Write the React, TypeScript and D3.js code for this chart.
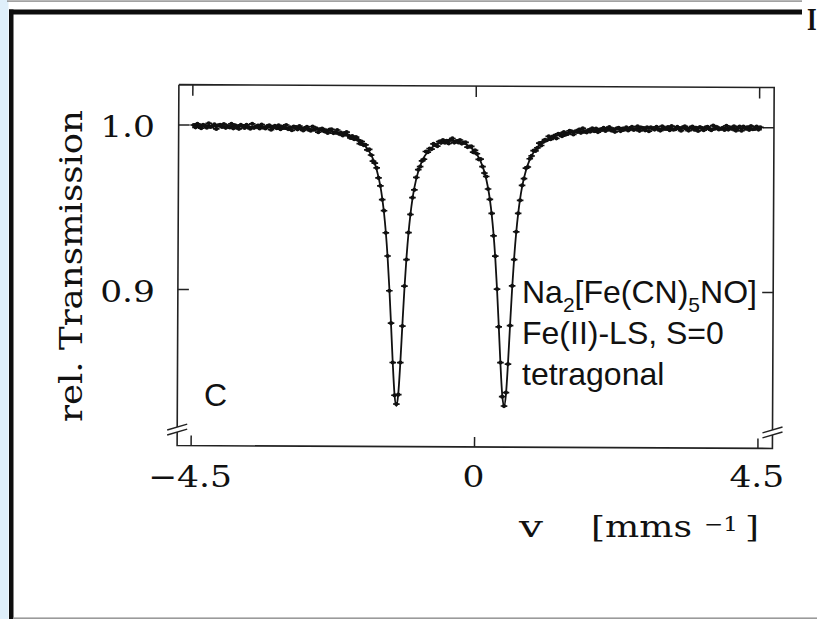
import React from 'react';
import * as d3 from 'd3';

// Spectrometer channels: velocity of the first channel and channel width (mm/s)
const V_START = -4.485;
const V_STEP = 0.03;

// Measured relative transmission per channel, in units of 1e-4
const TRANSMISSION_E4 = [
  10000, 9986, 10007, 9992, 9981, 10002, 9997, 9984, 10011, 9989,
  9992, 10004, 9977, 9998, 10002, 9989, 10007, 9984, 9995, 9987,
  10008, 9981, 9999, 9992, 9978, 10002, 9995, 9984, 10003, 9988,
  9979, 10009, 9985, 9993, 9998, 9981, 10005, 9987, 9981, 9995,
  10000, 9974, 9990, 9997, 9983, 10000, 9977, 9991, 9985, 10003,
  9978, 9989, 9971, 9994, 9990, 9977, 9996, 9982, 9970, 9986,
  9992, 9975, 9969, 9994, 9975, 9984, 9960, 9977, 9982, 9966,
  9972, 9956, 9976, 9978, 9955, 9958, 9974, 9951, 9958, 9941,
  9955, 9962, 9940, 9926, 9938, 9919, 9931, 9915, 9892, 9904,
  9883, 9884, 9854, 9857, 9823, 9786, 9774, 9745, 9684, 9636,
  9552, 9485, 9351, 9210, 8999, 8802, 8563, 8364, 8311, 8368,
  8563, 8785, 9028, 9189, 9353, 9463, 9565, 9613, 9688, 9735,
  9754, 9789, 9799, 9846, 9842, 9864, 9861, 9892, 9885, 9879,
  9906, 9899, 9916, 9900, 9912, 9896, 9918, 9926, 9901, 9910,
  9903, 9917, 9895, 9901, 9903, 9874, 9877, 9878, 9843, 9855,
  9834, 9800, 9801, 9756, 9717, 9696, 9620, 9557, 9472, 9336,
  9212, 9012, 8783, 8566, 8359, 8302, 8384, 8557, 8791, 9032,
  9192, 9361, 9473, 9552, 9643, 9684, 9748, 9755, 9805, 9822,
  9854, 9853, 9871, 9900, 9886, 9908, 9921, 9918, 9942, 9924,
  9937, 9947, 9930, 9957, 9955, 9943, 9968, 9953, 9957, 9976,
  9973, 9954, 9973, 9969, 9983, 9964, 9991, 9972, 9967, 9981,
  9972, 9992, 9975, 9990, 9969, 9984, 9982, 9995, 9976, 9990,
  9999, 9979, 9987, 9971, 9992, 9995, 9976, 9991, 9985, 9998,
  9980, 9991, 10002, 9983, 9989, 10005, 9978, 9997, 9995, 9981,
  10000, 9976, 9999, 9993, 9986, 10003, 9988, 9980, 10006, 9991,
  9990, 10001, 9983, 10007, 9986, 9989, 10003, 9996, 9980, 10000,
  10007, 9990, 9981, 9999, 10005, 9986, 9998, 9979, 10003, 9996,
  9984, 10001, 10004, 9990, 9984, 10012, 9994, 10003, 9989, 9993,
  9998, 9986, 10011, 9988, 10000, 9993, 10008, 9982, 9997, 10007,
  9982, 10007, 9995, 10003, 9987, 10010, 9991, 9993, 10007, 9989,
  10003,
];

// Fitted quadrupole doublet, sampled along the velocity axis
const FIT_V = [
  -4.485, -3.585, -2.985, -2.685, -2.385, -2.085, -1.935, -1.785, -1.695, -1.635,
  -1.575, -1.515, -1.485, -1.455, -1.425, -1.395, -1.365, -1.335, -1.305, -1.275,
  -1.245, -1.215, -1.185, -1.155, -1.125, -1.095, -1.065, -1.035, -1.005, -0.975,
  -0.915, -0.855, -0.765, -0.645, -0.525, -0.39, -0.255, -0.135, -0.015, 0.075,
  0.135, 0.195, 0.225, 0.255, 0.285, 0.315, 0.345, 0.375, 0.405, 0.435,
  0.465, 0.495, 0.525, 0.555, 0.585, 0.615, 0.645, 0.675, 0.705, 0.735,
  0.795, 0.855, 0.915, 1.005, 1.155, 1.305, 1.605, 1.905, 2.205, 2.805,
  3.705, 4.515,
];
const FIT_T = [
  0.99955, 0.9992, 0.99864, 0.9981, 0.9971, 0.9949, 0.9927, 0.9887, 0.9844, 0.98,
  0.9734, 0.9634, 0.9562, 0.9471, 0.9354, 0.9204, 0.9016, 0.8794, 0.8562, 0.8373,
  0.8299, 0.8373, 0.856, 0.8792, 0.9013, 0.92, 0.9349, 0.9465, 0.9556, 0.9626,
  0.9725, 0.9788, 0.9846, 0.9886, 0.9905, 0.9912, 0.9905, 0.9886, 0.9846, 0.9788,
  0.9725, 0.9626, 0.9556, 0.9465, 0.9349, 0.92, 0.9013, 0.8792, 0.856, 0.8373,
  0.8299, 0.8373, 0.8562, 0.8794, 0.9016, 0.9204, 0.9354, 0.9471, 0.9562, 0.9634,
  0.9734, 0.98, 0.9844, 0.9887, 0.9927, 0.9949, 0.9971, 0.9981, 0.99864, 0.9992,
  0.99955, 0.9997,
];

const X_TICKS = [-4.5, 0, 4.5];
const X_TICK_LABELS = ['\u22124.5', '0', '4.5'];
const Y_TICKS = [1.0, 0.9];
const Y_TICK_LABELS = ['1.0', '0.9'];

const W = 817;
const H = 619;
const SERIF = '"DejaVu Serif", serif';
const SANS = '"Liberation Sans", Arial, sans-serif';
const INK = '#111';

export default function App() {
  const x = d3.scaleLinear().domain([-4.5, 4.5]).range([192, 758.8]);
  const y = d3.scaleLinear().domain([0.9, 1.0]).range([291, 126.4]);

  // plot box
  const left = 178;
  const right = 773.3;
  const top = 86.1;
  const bottom = 447;
  const breakY = bottom - 16;

  const data = TRANSMISSION_E4.map((t, i) => ({ v: V_START + i * V_STEP, t: t / 1e4 }));
  const fit = FIT_V.map((v, i) => ({ v, t: FIT_T[i] }));
  const fitLine = d3
    .line()
    .x((d: any) => x(d.v))
    .y((d: any) => y(d.t))
    .curve(d3.curveMonotoneX);

  const frame = [
    `M${left},${top}H${right}V${breakY - 2.5}`,
    `M${right},${breakY + 2.5}V${bottom}H${left}V${breakY + 2.5}`,
    `M${left},${breakY - 2.5}V${top}`,
  ].join('');

  const breakMark = (ax: number) =>
    `M${ax - 10},${breakY + 0.5}L${ax + 10},${breakY - 5.5}` +
    `M${ax - 10},${breakY + 5.5}L${ax + 10},${breakY - 0.5}`;

  return (
    <svg
      width={W}
      height={H}
      viewBox={`0 0 ${W} ${H}`}
      style={{ position: 'absolute', left: 0, top: 0, background: '#fff', display: 'block' }}
    >
      <rect x={0} y={0} width={W} height={H} fill="#fff" />

      {/* page border around the figure */}
      <rect x={0} y={0} width={8.5} height={H} fill="#dfeffa" />
      <rect x={7} y={0.4} width={795} height={1.4} fill="#8c8c8c" />
      <rect x={9} y={9.5} width={793} height={5} fill="#0d0d0d" />
      <rect x={9} y={9.5} width={4.5} height={H - 9.5} fill="#0d0d0d" />
      <rect x={13} y={617.4} width={W - 13} height={1.6} fill="#9a9a9a" />
      <text
        transform="translate(807,30) scale(0.8,1)"
        fontFamily='"Liberation Serif", serif'
        fontWeight="bold"
        fontSize={31}
        fill={INK}
      >
        I
      </text>

      <g transform="rotate(0.28 476 266)">
        {/* axes box with breaks */}
        <path d={frame} fill="none" stroke="#222" strokeWidth={1.6} />
        <path d={breakMark(left)} fill="none" stroke="#222" strokeWidth={1.4} />
        <path d={breakMark(right)} fill="none" stroke="#222" strokeWidth={1.4} />

        {Y_TICKS.map((t) => (
          <g key={`yt${t}`}>
            <line x1={left} x2={left + 11} y1={y(t)} y2={y(t)} stroke="#222" strokeWidth={1.5} />
            <line x1={right} x2={right - 11} y1={y(t)} y2={y(t)} stroke="#222" strokeWidth={1.5} />
          </g>
        ))}
        {X_TICKS.map((v) => (
          <g key={`xt${v}`}>
            <line x1={x(v)} x2={x(v)} y1={top} y2={top + 11} stroke="#222" strokeWidth={1.5} />
            <line x1={x(v)} x2={x(v)} y1={bottom} y2={bottom - 10} stroke="#222" strokeWidth={1.5} />
          </g>
        ))}

        {/* fitted doublet */}
        <path d={fitLine(fit as any) || ''} fill="none" stroke={INK} strokeWidth={1.8} />

        {/* measured channels */}
        <g fill={INK} stroke={INK} strokeWidth={1.7}>
          {data.map((d, i) => {
            const cx = x(d.v);
            const cy = y(d.t);
            return (
              <g key={i}>
                <line x1={cx - 3.3} x2={cx + 3.3} y1={cy} y2={cy} />
                <circle cx={cx} cy={cy} r={2.1} stroke="none" />
              </g>
            );
          })}
        </g>
      </g>

      {/* tick labels */}
      {Y_TICKS.map((t, i) => (
        <text
          key={`yl${t}`}
          transform={`translate(${left - 23},${y(t) + 10.5}) scale(1.15,1)`}
          textAnchor="end"
          fontFamily={SERIF}
          fontSize={30}
          fill={INK}
        >
          {Y_TICK_LABELS[i]}
        </text>
      ))}
      {X_TICKS.map((v, i) => (
        <text
          key={`xl${v}`}
          transform={`translate(${x(v) - 2},487) scale(1.15,1)`}
          textAnchor="middle"
          fontFamily={SERIF}
          fontSize={30}
          fill={INK}
        >
          {X_TICK_LABELS[i]}
        </text>
      ))}

      {/* axis titles */}
      <text
        transform="translate(82,422) rotate(-90)"
        fontFamily={SERIF}
        fontSize={31}
        fill={INK}
        textLength={312}
        lengthAdjust="spacingAndGlyphs"
      >
        rel. Transmission
      </text>
      <text x={519} y={537} fontFamily={SERIF} fontSize={30} fill={INK} textLength={24} lengthAdjust="spacingAndGlyphs">
        v
      </text>
      <text x={591} y={537} fontFamily={SERIF} fontSize={30} fill={INK} textLength={101} lengthAdjust="spacingAndGlyphs">
        [mms
      </text>
      <text x={704} y={531} fontFamily={SERIF} fontSize={20} fill={INK} textLength={34} lengthAdjust="spacingAndGlyphs">
        {'\u22121'}
      </text>
      <text x={745} y={537} fontFamily={SERIF} fontSize={30} fill={INK} textLength={14} lengthAdjust="spacingAndGlyphs">
        ]
      </text>

      {/* sample annotation */}
      <text x={522} y={303} fontFamily={SANS} fontSize={32} fill={INK}>
        Na
        <tspan dy={9} fontSize={21}>2</tspan>
        <tspan dy={-9}>[Fe(CN)</tspan>
        <tspan dy={9} fontSize={21}>5</tspan>
        <tspan dy={-9}>NO]</tspan>
      </text>
      <text x={522} y={344} fontFamily={SANS} fontSize={32} fill={INK}>
        Fe(II)-LS, S=0
      </text>
      <text x={522} y={385} fontFamily={SANS} fontSize={32} fill={INK}>
        tetragonal
      </text>
      <text x={204} y={406} fontFamily={SANS} fontSize={32} fill={INK}>
        C
      </text>
    </svg>
  );
}
